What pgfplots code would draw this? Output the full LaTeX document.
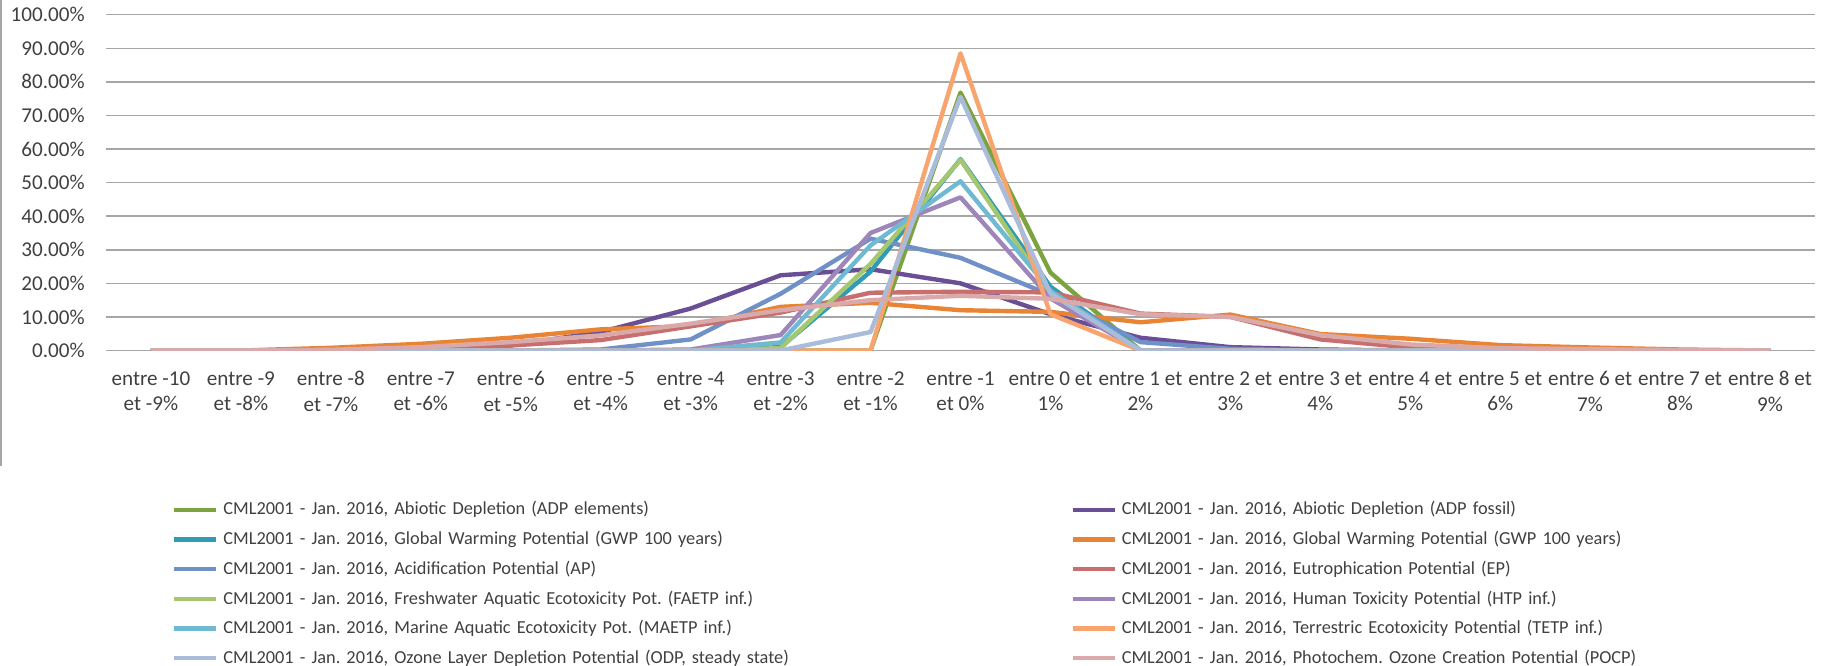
\documentclass[border=0pt]{standalone}
\usepackage{fontspec}
\setmainfont{Carlito}
\usepackage{pgfplots}
\usepackage{pgfplotstable}
\pgfplotsset{compat=1.18}
\frenchspacing
\definecolor{cA}{HTML}{7CA340}
\definecolor{cB}{HTML}{6A4E96}
\definecolor{cC}{HTML}{2F9BB4}
\definecolor{cD}{HTML}{E88434}
\definecolor{cE}{HTML}{6F91C8}
\definecolor{cF}{HTML}{C86E6E}
\definecolor{cG}{HTML}{A5C770}
\definecolor{cH}{HTML}{9E86BB}
\definecolor{cI}{HTML}{6FBAD1}
\definecolor{cJ}{HTML}{F8A46E}
\definecolor{cK}{HTML}{AABCDA}
\definecolor{cL}{HTML}{DAAAAA}
\definecolor{txt}{HTML}{404040}
\definecolor{grd}{HTML}{A6A6A6}
\pgfplotstableread{
x c1 c2 c3 c4 c5 c6 c7 c8 c9 c10 c11 c12
0 0 0 0 0 0 0 0 0 0 0 0 0
1 0 0 0 0 0 0 0 0 0 0 0 0
2 0 0 0 0.8 0 0 0 0 0 0 0 0.2
3 0 0.3 0 2.0 0 0.5 0 0 0 0 0 1.0
4 0 1.5 0 3.8 0 1.5 0 0 0 0 0 2.5
5 0 5.5 0 6.3 0.3 3.1 0 0 0 0 0 4.5
6 0 12.5 0 7.3 3.3 7.2 0 0.3 0 0 0 8.0
7 0 22.4 1.0 13.0 16.9 11.3 0.7 4.6 2.4 0 0 12.0
8 0 24.2 23.5 14.2 33.3 17.2 25.8 35.0 31.3 0 5.5 15.0
9 76.8 20.0 57.0 12.0 27.6 17.5 56.8 45.6 50.4 88.5 75.5 16.3
10 23.2 10.8 19.0 11.5 16.5 17.3 17.0 15.5 17.8 10.8 17.0 15.4
11 0 3.8 0 8.4 2.5 11.0 0 0 0 0 0 10.8
12 0 1.0 0 10.7 0.5 10.0 0 0 0 0 0 10.0
13 0 0.3 0 4.9 0 3.3 0 0 0 0 0 4.6
14 0 0 0 3.5 0 0.9 0 0 0 0 0 1.8
15 0 0 0 1.6 0 0.5 0 0 0 0 0 0.7
16 0 0 0 0.9 0 0.2 0 0 0 0 0 0.4
17 0 0 0 0.3 0 0 0 0 0 0 0 0.1
18 0 0 0 0 0 0 0 0 0 0 0 0
}\data
\begin{document}
\begin{tikzpicture}
\useasboundingbox (-53bp,175.25bp) rectangle (860.5bp,-157.75bp);
\draw[color=grd, line width=0.75bp] (-52.6bp,175.25bp) -- (-52.6bp,-57.75bp);
\begin{axis}[
  scale only axis, width=854.5bp, height=167.9bp,
  xmin=-0.5, xmax=18.5, ymin=0, ymax=100,
  axis x line=bottom, axis y line=left,
  x axis line style={draw=grd, line width=0.75bp, -},
  y axis line style={draw=none},
  major tick length=0pt,
  ymajorgrids, grid style={draw=grd, line width=0.75bp},
  ytick={0,10,...,100},
  yticklabels={0.00\%,10.00\%,20.00\%,30.00\%,40.00\%,50.00\%,60.00\%,70.00\%,80.00\%,90.00\%,100.00\%},
  yticklabel style={anchor=east, inner sep=0pt, xshift=-10.5bp, font=\fontsize{10.6}{12.85}\selectfont, text=txt},
  xtick={0,...,18},
  xticklabels={{entre -10\\et -9\%},{entre -9\\et -8\%},{entre -8\\et -7\%},{entre -7\\et -6\%},{entre -6\\et -5\%},{entre -5\\et -4\%},{entre -4\\et -3\%},{entre -3\\et -2\%},{entre -2\\et -1\%},{entre -1\\et 0\%},{entre 0 et\\1\%},{entre 1 et\\2\%},{entre 2 et\\3\%},{entre 3 et\\4\%},{entre 4 et\\5\%},{entre 5 et\\6\%},{entre 6 et\\7\%},{entre 7 et\\8\%},{entre 8 et\\9\%}},
  xticklabel style={align=center, anchor=north, inner sep=0pt, yshift=-10.3bp, font=\fontsize{10.6}{12.85}\selectfont, text=txt},
  legend columns=2,
  legend cell align=left,
  legend style={at={(rel axis cs:0.0386,-0.43)}, anchor=north west, draw=none, fill=none, inner sep=0pt, outer sep=0pt, column sep=2.5bp, row sep=0pt,
    nodes={inner sep=0pt, minimum height=14.85bp, text width=421bp, font=\fontsize{9.2}{10}\selectfont, text=txt}},
  legend image code/.code={\draw[#1] (0bp,0bp) -- (21bp,0bp);},
  every axis plot/.append style={line width=2.2bp, line join=round, no marks},
]
\addplot[cA] table[x=x,y=c1]{\data};
\addlegendentry{CML2001 - Jan. 2016, Abiotic Depletion (ADP elements)}
\addplot[cB] table[x=x,y=c2]{\data};
\addlegendentry{CML2001 - Jan. 2016, Abiotic Depletion (ADP fossil)}
\addplot[cC] table[x=x,y=c3]{\data};
\addlegendentry{CML2001 - Jan. 2016, Global Warming Potential (GWP 100 years)}
\addplot[cD] table[x=x,y=c4]{\data};
\addlegendentry{CML2001 - Jan. 2016, Global Warming Potential (GWP 100 years)}
\addplot[cE] table[x=x,y=c5]{\data};
\addlegendentry{CML2001 - Jan. 2016, Acidification Potential (AP)}
\addplot[cF] table[x=x,y=c6]{\data};
\addlegendentry{CML2001 - Jan. 2016, Eutrophication Potential (EP)}
\addplot[cG] table[x=x,y=c7]{\data};
\addlegendentry{CML2001 - Jan. 2016, Freshwater Aquatic Ecotoxicity Pot. (FAETP inf.)}
\addplot[cH] table[x=x,y=c8]{\data};
\addlegendentry{CML2001 - Jan. 2016, Human Toxicity Potential (HTP inf.)}
\addplot[cI] table[x=x,y=c9]{\data};
\addlegendentry{CML2001 - Jan. 2016, Marine Aquatic Ecotoxicity Pot. (MAETP inf.)}
\addplot[cJ] table[x=x,y=c10]{\data};
\addlegendentry{CML2001 - Jan. 2016, Terrestric Ecotoxicity Potential (TETP inf.)}
\addplot[cK] table[x=x,y=c11]{\data};
\addlegendentry{CML2001 - Jan. 2016, Ozone Layer Depletion Potential (ODP, steady state)}
\addplot[cL] table[x=x,y=c12]{\data};
\addlegendentry{CML2001 - Jan. 2016, Photochem. Ozone Creation Potential (POCP)}
\end{axis}
\end{tikzpicture}
\end{document}
